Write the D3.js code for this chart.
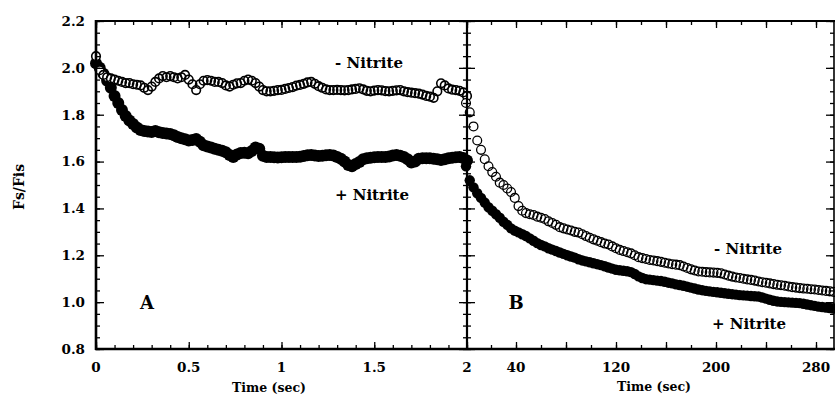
<!DOCTYPE html>
<html>
<head>
<meta charset="utf-8">
<script src="https://cdn.jsdelivr.net/npm/d3@7"></script>
<style>
  body { margin: 0; background: #fff; }
  svg { display: block; }
  text { font-family: "DejaVu Serif", serif; font-weight: bold; fill: #000; }
</style>
</head>
<body>
<svg id="chart"></svg>
<script>
const width = 835;
const height = 404;

// panel A: fast time scale, sampled every 0.02 s from 0 to 2 s
const stepA = 0.02;
const minusA = [2.05, 1.99, 1.97, 1.96, 1.955, 1.95, 1.945, 1.94, 1.935, 1.935,
  1.93, 1.928, 1.925, 1.915, 1.905, 1.92, 1.94, 1.955, 1.965, 1.96,
  1.965, 1.96, 1.955, 1.96, 1.97, 1.95, 1.93, 1.905, 1.93, 1.945,
  1.948, 1.945, 1.94, 1.94, 1.935, 1.925, 1.92, 1.928, 1.934, 1.935,
  1.945, 1.95, 1.945, 1.935, 1.92, 1.905, 1.9, 1.9, 1.902, 1.905,
  1.906, 1.91, 1.914, 1.918, 1.924, 1.927, 1.932, 1.938, 1.94, 1.932,
  1.922, 1.915, 1.908, 1.905, 1.905, 1.906, 1.905, 1.904, 1.905, 1.908,
  1.91, 1.913, 1.908, 1.902, 1.9, 1.903, 1.905, 1.904, 1.901, 1.9,
  1.902, 1.904, 1.905, 1.9, 1.896, 1.894, 1.892, 1.89, 1.886, 1.88,
  1.877, 1.872, 1.9, 1.934, 1.925, 1.912, 1.907, 1.905, 1.902, 1.895, 1.88];
const plusA = [2.02, 2.0, 1.975, 1.945, 1.915, 1.88, 1.85, 1.82, 1.795, 1.775,
  1.76, 1.745, 1.735, 1.73, 1.728, 1.726, 1.73, 1.725, 1.722, 1.72,
  1.718, 1.712, 1.705, 1.7, 1.695, 1.69, 1.692, 1.696, 1.685, 1.67,
  1.664, 1.66, 1.655, 1.65, 1.646, 1.64, 1.628, 1.62, 1.63, 1.637,
  1.638, 1.636, 1.645, 1.66, 1.655, 1.625, 1.62, 1.62, 1.618, 1.617,
  1.618, 1.62, 1.62, 1.619, 1.62, 1.621, 1.624, 1.627, 1.628, 1.626,
  1.624, 1.625, 1.627, 1.628, 1.626, 1.62, 1.612, 1.6, 1.585, 1.58,
  1.59, 1.598, 1.61, 1.614, 1.616, 1.618, 1.619, 1.62, 1.62, 1.622,
  1.626, 1.628, 1.625, 1.62, 1.61, 1.596, 1.6, 1.612, 1.614, 1.614,
  1.614, 1.612, 1.61, 1.607, 1.61, 1.614, 1.616, 1.618, 1.62, 1.615, 1.605];

// panel B: slow time scale, sampled every 3 s from 0 to 294 s
const stepB = 3;
const minusB = [1.85, 1.81, 1.75, 1.69, 1.65, 1.61, 1.58, 1.555, 1.535, 1.51,
  1.5, 1.485, 1.47, 1.445, 1.41, 1.39, 1.38, 1.375, 1.372, 1.365,
  1.36, 1.355, 1.345, 1.338, 1.33, 1.32, 1.315, 1.31, 1.306, 1.3,
  1.297, 1.29, 1.282, 1.275, 1.268, 1.262, 1.256, 1.25, 1.246, 1.238,
  1.23, 1.223, 1.218, 1.213, 1.208, 1.2, 1.192, 1.188, 1.184, 1.18,
  1.178, 1.175, 1.172, 1.168, 1.165, 1.162, 1.16, 1.158, 1.152, 1.146,
  1.14, 1.135, 1.131, 1.13, 1.128, 1.127, 1.126, 1.125, 1.123, 1.118,
  1.113, 1.109, 1.105, 1.103, 1.1, 1.097, 1.095, 1.092, 1.088, 1.085,
  1.083, 1.08, 1.077, 1.074, 1.072, 1.07, 1.067, 1.064, 1.062, 1.06,
  1.058, 1.057, 1.055, 1.054, 1.052, 1.05, 1.048, 1.046, 1.044];
const plusB = [1.58, 1.52, 1.49, 1.465, 1.445, 1.425, 1.405, 1.39, 1.375, 1.36,
  1.343, 1.33, 1.315, 1.305, 1.298, 1.29, 1.282, 1.272, 1.262, 1.252,
  1.244, 1.238, 1.23, 1.224, 1.218, 1.212, 1.206, 1.2, 1.195, 1.19,
  1.183, 1.178, 1.174, 1.17, 1.166, 1.162, 1.158, 1.153, 1.148, 1.143,
  1.138, 1.136, 1.134, 1.132, 1.128, 1.12, 1.11, 1.103, 1.098, 1.096,
  1.094, 1.092, 1.09, 1.087, 1.083, 1.08, 1.076, 1.073, 1.07, 1.066,
  1.062, 1.058, 1.054, 1.051, 1.048, 1.046, 1.044, 1.042, 1.04, 1.038,
  1.036, 1.034, 1.032, 1.03, 1.029, 1.028, 1.026, 1.025, 1.024, 1.02,
  1.015, 1.01, 1.006, 1.003, 1.001, 1.0, 0.999, 0.998, 0.997, 0.996,
  0.993, 0.99, 0.987, 0.984, 0.981, 0.979, 0.977, 0.975, 0.973];

const yTicks = [0.8, 1.0, 1.2, 1.4, 1.6, 1.8, 2.0, 2.2];
const xTicksA = [0, 0.5, 1, 1.5, 2];
const xTicksB = [40, 120, 200, 280];

const mLeft = 96, mTop = 21, mBottom = 349, split = 467, mRight = 834;

const y = d3.scaleLinear([0.8, 2.2], [mBottom, mTop]);
const xA = d3.scaleLinear([0, 2], [mLeft, split]);
const xB = d3.scaleLinear([0, 294], [split - 1, mRight - 0.5]);

const svg = d3.select("#chart")
    .attr("width", width)
    .attr("height", height)
    .attr("viewBox", [0, 0, width, height]);

const minorY = d3.range(0.8, 2.2001, 0.05);

// markers first, frame on top
const marks = svg.append("g");

function filledDots(values, step, x, r) {
  marks.append("g")
    .selectAll("circle")
    .data(values)
    .join("circle")
      .attr("cx", (d, i) => x(i * step))
      .attr("cy", d => y(d))
      .attr("r", r)
      .attr("fill", "#000");
}

// open circles: white discs first, then all the rings on top,
// so overlapping rings tangle into a dark band like the print
function openDots(values, step, x, r, sw) {
  const g = marks.append("g");
  g.append("g")
    .selectAll("circle")
    .data(values)
    .join("circle")
      .attr("cx", (d, i) => x(i * step))
      .attr("cy", d => y(d))
      .attr("r", r)
      .attr("fill", "#fff");
  g.append("g")
    .selectAll("circle")
    .data(values)
    .join("circle")
      .attr("cx", (d, i) => x(i * step))
      .attr("cy", d => y(d))
      .attr("r", r)
      .attr("fill", "none")
      .attr("stroke", "#000")
      .attr("stroke-width", sw);
}

filledDots(plusA, stepA, xA, 6);
openDots(minusA, stepA, xA, 4.3, 1.6);
filledDots(plusB, stepB, xB, 5.2);
openDots(minusB, stepB, xB, 4.4, 1.3);

// left axis
svg.append("g")
    .attr("transform", `translate(${mLeft},0)`)
    .call(d3.axisLeft(y).tickValues(minorY).tickFormat("").tickSize(-4))
    .call(g => g.select(".domain").remove());
svg.append("g")
    .attr("transform", `translate(${mLeft},0)`)
    .call(d3.axisLeft(y).tickValues(yTicks).tickFormat(d3.format(".1f")).tickSize(-8).tickPadding(11))
    .call(g => g.select(".domain").remove())
    .call(g => g.selectAll("text").style("font-size", "13.5px").attr("font-family", null));

// divider with ticks on both sides
[4, -4].forEach(s => svg.append("g")
    .attr("transform", `translate(${split},0)`)
    .call(d3.axisLeft(y).tickValues(minorY).tickFormat("").tickSize(s))
    .call(g => g.select(".domain").remove()));
[8, -8].forEach(s => svg.append("g")
    .attr("transform", `translate(${split},0)`)
    .call(d3.axisLeft(y).tickValues(yTicks).tickFormat("").tickSize(s))
    .call(g => g.select(".domain").remove()));

// right axis
svg.append("g")
    .attr("transform", `translate(${mRight},0)`)
    .call(d3.axisRight(y).tickValues(minorY).tickFormat("").tickSize(-4))
    .call(g => g.select(".domain").remove());
svg.append("g")
    .attr("transform", `translate(${mRight},0)`)
    .call(d3.axisRight(y).tickValues(yTicks).tickFormat("").tickSize(-8))
    .call(g => g.select(".domain").remove());

// bottom and top ticks
const minorA = d3.range(0, 2.001, 0.1);
const minorB = d3.range(20, 294, 20);
const majorB = d3.range(40, 294, 40);
[[xA, minorA, 4], [xA, xTicksA, 7], [xB, minorB, 4], [xB, majorB, 7]].forEach(([sc, vals, s]) => {
  svg.append("g")
      .attr("transform", `translate(0,${mBottom})`)
      .call(d3.axisBottom(sc).tickValues(vals).tickFormat("").tickSize(-s))
      .call(g => g.select(".domain").remove());
  svg.append("g")
      .attr("transform", `translate(0,${mTop})`)
      .call(d3.axisTop(sc).tickValues(vals).tickFormat("").tickSize(-s))
      .call(g => g.select(".domain").remove());
});

svg.selectAll(".tick line").attr("stroke", "#000").attr("stroke-width", 1.3);

// tick labels on the time axes
svg.append("g").selectAll("text")
  .data(xTicksA)
  .join("text")
    .attr("x", d => xA(d))
    .attr("y", 372)
    .attr("text-anchor", "middle")
    .style("font-size", "13.5px")
    .text(d => d3.format("")(d));
svg.append("g").selectAll("text")
  .data(xTicksB)
  .join("text")
    .attr("x", d => xB(d))
    .attr("y", 372)
    .attr("text-anchor", "middle")
    .style("font-size", "13.5px")
    .text(d => d);

// frame lines
const frame = svg.append("g").attr("stroke", "#000").attr("fill", "none");
frame.append("line").attr("x1", mLeft).attr("x2", mLeft).attr("y1", mTop - 1).attr("y2", mBottom + 1).attr("stroke-width", 2.6);
frame.append("line").attr("x1", mLeft - 1).attr("x2", width).attr("y1", mBottom).attr("y2", mBottom).attr("stroke-width", 2.6);
frame.append("line").attr("x1", mLeft - 1).attr("x2", width).attr("y1", mTop).attr("y2", mTop).attr("stroke-width", 2);
frame.append("line").attr("x1", split).attr("x2", split).attr("y1", mTop).attr("y2", mBottom).attr("stroke-width", 2.2);
frame.append("line").attr("x1", mRight).attr("x2", mRight).attr("y1", mTop).attr("y2", mBottom).attr("stroke-width", 1.6);

// axis titles
svg.append("text")
    .attr("x", 269).attr("y", 392)
    .attr("text-anchor", "middle")
    .style("font-size", "12.5px")
    .text("Time (sec)");
svg.append("text")
    .attr("x", 654).attr("y", 391)
    .attr("text-anchor", "middle")
    .style("font-size", "12.5px")
    .text("Time (sec)");
svg.append("text")
    .attr("transform", "translate(24,187) rotate(-90)")
    .attr("text-anchor", "middle")
    .style("font-size", "14px")
    .text("Fs/Fis");

// annotations
const notes = [
  { t: "- Nitrite", x: 369, y: 68, s: 15 },
  { t: "+ Nitrite", x: 372, y: 200, s: 15 },
  { t: "- Nitrite", x: 748, y: 254, s: 15 },
  { t: "+ Nitrite", x: 749, y: 329, s: 15 },
  { t: "A", x: 147, y: 309, s: 18 },
  { t: "B", x: 516, y: 309, s: 18 }
];
svg.append("g").selectAll("text")
  .data(notes)
  .join("text")
    .attr("x", d => d.x)
    .attr("y", d => d.y)
    .attr("text-anchor", "middle")
    .style("font-size", d => d.s + "px")
    .text(d => d.t);
</script>
</body>
</html>
